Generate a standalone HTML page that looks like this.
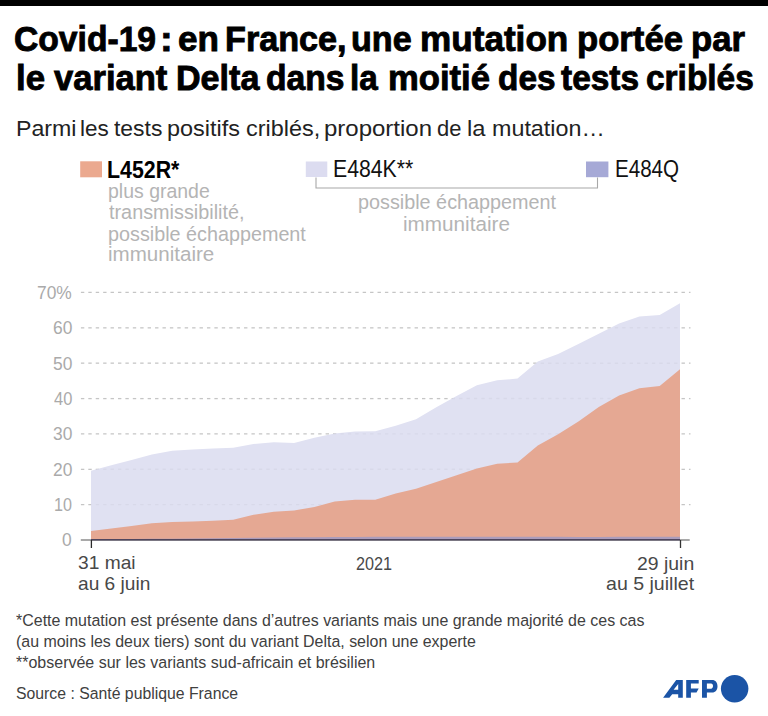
<!DOCTYPE html>
<html><head><meta charset="utf-8"><style>
html,body{margin:0;padding:0;background:#fff;width:768px;height:716px;overflow:hidden;position:relative}
.t{position:absolute;white-space:nowrap;line-height:1;font-family:"Liberation Sans",sans-serif}
#afp{position:absolute;left:662px;top:676px;font-family:"Liberation Sans",sans-serif;font-weight:700;font-style:italic;color:#1b4f9f;font-size:25px;line-height:1}
</style></head><body>
<div style="position:absolute;left:0;top:0;width:768px;height:6px;background:#000"></div>
<svg width="768" height="716" style="position:absolute;left:0;top:0">
<g stroke="#cdcdcd" stroke-width="1.25" stroke-dasharray="3.4 4.015"><line x1="80.9" y1="504.6" x2="690.5" y2="504.6" /><line x1="80.9" y1="469.3" x2="690.5" y2="469.3" /><line x1="80.9" y1="433.9" x2="690.5" y2="433.9" /><line x1="80.9" y1="398.5" x2="690.5" y2="398.5" /><line x1="80.9" y1="363.2" x2="690.5" y2="363.2" /><line x1="80.9" y1="327.8" x2="690.5" y2="327.8" /><line x1="80.9" y1="292.4" x2="690.5" y2="292.4" /></g>
<path d="M91.0,538 L91.0,470.7 L111.3,465.3 L131.6,459.9 L151.9,454.5 L172.2,450.7 L192.6,449.4 L212.9,448.5 L233.2,447.7 L253.5,444.1 L273.8,442.2 L294.1,443.0 L314.4,437.7 L334.7,433.4 L355.0,431.6 L375.3,431.2 L395.7,425.7 L416.0,419.2 L436.3,407.3 L456.6,395.9 L476.9,385.2 L497.2,380.3 L517.5,378.6 L537.8,361.5 L558.1,354.0 L578.4,343.9 L598.8,333.7 L619.1,323.6 L639.4,316.4 L659.7,314.9 L680.0,303.2 L680.0,538 Z" fill="#e0e1f2"/>
<g stroke="#000" stroke-opacity="0.035" stroke-width="1.4" stroke-dasharray="3.4 4.015"><line x1="80.9" y1="504.6" x2="690.5" y2="504.6" /><line x1="80.9" y1="469.3" x2="690.5" y2="469.3" /><line x1="80.9" y1="433.9" x2="690.5" y2="433.9" /><line x1="80.9" y1="398.5" x2="690.5" y2="398.5" /><line x1="80.9" y1="363.2" x2="690.5" y2="363.2" /><line x1="80.9" y1="327.8" x2="690.5" y2="327.8" /><line x1="80.9" y1="292.4" x2="690.5" y2="292.4" /></g>
<path d="M91.0,539.5 L91.0,531.0 L111.3,528.4 L131.6,525.9 L151.9,523.3 L172.2,522.0 L192.6,521.6 L212.9,520.7 L233.2,519.8 L253.5,514.8 L273.8,511.8 L294.1,510.5 L314.4,506.9 L334.7,501.6 L355.0,499.8 L375.3,499.7 L395.7,493.6 L416.0,488.8 L436.3,482.0 L456.6,475.2 L476.9,468.5 L497.2,463.7 L517.5,462.5 L537.8,445.6 L558.1,434.2 L578.4,421.5 L598.8,407.0 L619.1,395.5 L639.4,388.3 L659.7,385.9 L680.0,369.2 L680.0,539.5 Z" fill="#e5a893"/>
<path d="M91,539.5 L91.0,539.30 L111.3,539.13 L131.6,538.97 L151.9,538.80 L172.2,538.64 L192.6,538.47 L212.9,538.23 L233.2,537.98 L253.5,537.74 L273.8,537.49 L294.1,537.28 L314.4,537.15 L334.7,537.03 L355.0,536.91 L375.3,536.79 L395.7,536.70 L416.0,536.70 L436.3,536.70 L456.6,536.70 L476.9,536.70 L497.2,536.71 L517.5,536.76 L537.8,536.80 L558.1,536.84 L578.4,536.88 L598.8,536.88 L619.1,536.84 L639.4,536.79 L659.7,536.75 L680.0,536.70 L680,539.5 Z" fill="#ab9cbb"/>
<line x1="80.8" y1="540" x2="689.7" y2="540" stroke="#8c8c8c" stroke-width="1.5"/>
<line x1="91" y1="539.7" x2="680" y2="539.7" stroke="#4f465e" stroke-width="1.6"/>
<line x1="91.4" y1="540" x2="91.4" y2="548" stroke="#2a2a2a" stroke-width="1.3"/>
<line x1="680.5" y1="540" x2="680.5" y2="548" stroke="#333" stroke-width="1.3"/>
<rect x="80.2" y="161.3" width="21.8" height="16" fill="#eba98f"/>
<rect x="305.8" y="161.5" width="21.5" height="15.5" fill="#dcdcf0"/>
<rect x="586" y="161.5" width="22.4" height="15.7" fill="#a6a9d6"/>
<path d="M316,177.5 V188 H597.5 V177.5" fill="none" stroke="#a8a8a8" stroke-width="1.1"/>
<g fill="#1b54a6">
<path fill-rule="evenodd" d="M663.1,697.7 L676.2,680 L682.8,680 L682.8,697.7 L678.2,697.7 L678.2,694.2 L672.2,694.2 L669.4,697.7 Z M673.6,689.8 L678.2,683.9 L678.2,689.8 Z"/>
<path d="M686.2,680 L698.7,680 L698.7,683.5 L690.9,683.5 L690.9,688.4 L698.7,688.4 L696.5,692.6 L690.9,692.6 L690.9,697.7 L686.2,697.7 Z"/>
<path fill-rule="evenodd" d="M702,680 L712,680 C715.6,680 717.5,682.6 717.5,686.3 C717.5,690 715.6,692.6 712,692.6 L706.9,692.6 L706.9,697.7 L702,697.7 Z M706.9,683.4 L711,683.4 C712.3,683.4 713,684.6 713,686.05 C713,687.5 712.3,688.7 711,688.7 L706.9,688.7 Z"/>
<circle cx="734.65" cy="688.75" r="13.75"/>
</g>
</svg>
<div class="t" id="t1_0" style="left:14.22px;top:21.86px;font-size:35.6px;font-weight:700;color:#000;transform:scaleX(0.9454);transform-origin:left 0;-webkit-text-stroke:0.9px #000;">Covid-19</div>
<div class="t" id="t1_1" style="left:160.33px;top:21.86px;font-size:35.6px;font-weight:700;color:#000;transform:scaleX(1.0708);transform-origin:left 0;-webkit-text-stroke:0.9px #000;">:</div>
<div class="t" id="t1_2" style="left:178.14px;top:21.86px;font-size:35.6px;font-weight:700;color:#000;transform:scaleX(0.9856);transform-origin:left 0;-webkit-text-stroke:0.9px #000;">en</div>
<div class="t" id="t1_3" style="left:224.90px;top:21.86px;font-size:35.6px;font-weight:700;color:#000;transform:scaleX(0.9610);transform-origin:left 0;-webkit-text-stroke:0.9px #000;">France,</div>
<div class="t" id="t1_4" style="left:351.20px;top:21.86px;font-size:35.6px;font-weight:700;color:#000;transform:scaleX(0.9594);transform-origin:left 0;-webkit-text-stroke:0.9px #000;">une</div>
<div class="t" id="t1_5" style="left:420.20px;top:21.86px;font-size:35.6px;font-weight:700;color:#000;transform:scaleX(0.9873);transform-origin:left 0;-webkit-text-stroke:0.9px #000;">mutation</div>
<div class="t" id="t1_6" style="left:577.15px;top:21.86px;font-size:35.6px;font-weight:700;color:#000;transform:scaleX(0.9745);transform-origin:left 0;-webkit-text-stroke:0.9px #000;">portée</div>
<div class="t" id="t1_7" style="left:691.31px;top:21.86px;font-size:35.6px;font-weight:700;color:#000;transform:scaleX(0.9750);transform-origin:left 0;-webkit-text-stroke:0.9px #000;">par</div>
<div class="t" id="t2_0" style="left:15.87px;top:60.86px;font-size:35.6px;font-weight:700;color:#000;transform:scaleX(0.9768);transform-origin:left 0;-webkit-text-stroke:0.9px #000;">le</div>
<div class="t" id="t2_1" style="left:54.02px;top:60.86px;font-size:35.6px;font-weight:700;color:#000;transform:scaleX(0.9713);transform-origin:left 0;-webkit-text-stroke:0.9px #000;">variant</div>
<div class="t" id="t2_2" style="left:176.36px;top:60.86px;font-size:35.6px;font-weight:700;color:#000;transform:scaleX(0.9582);transform-origin:left 0;-webkit-text-stroke:0.9px #000;">Delta</div>
<div class="t" id="t2_3" style="left:266.41px;top:60.86px;font-size:35.6px;font-weight:700;color:#000;transform:scaleX(0.9455);transform-origin:left 0;-webkit-text-stroke:0.9px #000;">dans</div>
<div class="t" id="t2_4" style="left:350.34px;top:60.86px;font-size:35.6px;font-weight:700;color:#000;transform:scaleX(0.9342);transform-origin:left 0;-webkit-text-stroke:0.9px #000;">la</div>
<div class="t" id="t2_5" style="left:387.56px;top:60.86px;font-size:35.6px;font-weight:700;color:#000;transform:scaleX(0.9734);transform-origin:left 0;-webkit-text-stroke:0.9px #000;">moitié</div>
<div class="t" id="t2_6" style="left:497.59px;top:60.86px;font-size:35.6px;font-weight:700;color:#000;transform:scaleX(0.9379);transform-origin:left 0;-webkit-text-stroke:0.9px #000;">des</div>
<div class="t" id="t2_7" style="left:560.62px;top:60.86px;font-size:35.6px;font-weight:700;color:#000;transform:scaleX(0.9397);transform-origin:left 0;-webkit-text-stroke:0.9px #000;">tests</div>
<div class="t" id="t2_8" style="left:646.45px;top:60.86px;font-size:35.6px;font-weight:700;color:#000;transform:scaleX(0.9394);transform-origin:left 0;-webkit-text-stroke:0.9px #000;">criblés</div>
<div class="t" id="sub_0" style="left:15.63px;top:117.95px;font-size:22.5px;font-weight:400;color:#222;transform:scaleX(1.0293);transform-origin:left 0;">Parmi</div>
<div class="t" id="sub_1" style="left:80.22px;top:117.95px;font-size:22.5px;font-weight:400;color:#222;transform:scaleX(0.9985);transform-origin:left 0;">les</div>
<div class="t" id="sub_2" style="left:114.25px;top:117.95px;font-size:22.5px;font-weight:400;color:#222;transform:scaleX(1.0172);transform-origin:left 0;">tests</div>
<div class="t" id="sub_3" style="left:167.45px;top:117.95px;font-size:22.5px;font-weight:400;color:#222;transform:scaleX(1.0408);transform-origin:left 0;">positifs</div>
<div class="t" id="sub_4" style="left:245.51px;top:117.95px;font-size:22.5px;font-weight:400;color:#222;transform:scaleX(1.0412);transform-origin:left 0;">criblés,</div>
<div class="t" id="sub_5" style="left:323.86px;top:117.95px;font-size:22.5px;font-weight:400;color:#222;transform:scaleX(1.0665);transform-origin:left 0;">proportion</div>
<div class="t" id="sub_6" style="left:437.46px;top:117.95px;font-size:22.5px;font-weight:400;color:#222;transform:scaleX(0.9753);transform-origin:left 0;">de</div>
<div class="t" id="sub_7" style="left:466.78px;top:117.95px;font-size:22.5px;font-weight:400;color:#222;transform:scaleX(1.0542);transform-origin:left 0;">la</div>
<div class="t" id="sub_8" style="left:491.63px;top:117.95px;font-size:22.5px;font-weight:400;color:#222;transform:scaleX(1.0360);transform-origin:left 0;">mutation…</div>
<div class="t" id="lg1" style="left:107.16px;top:158.66px;font-size:23.2px;font-weight:700;color:#000;transform:scaleX(0.9211);transform-origin:left 0;">L452R*</div>
<div class="t" id="lg2" style="left:333.19px;top:158.11px;font-size:23.5px;font-weight:400;color:#111;transform:scaleX(0.9035);transform-origin:left 0;">E484K**</div>
<div class="t" id="lg3" style="left:615.25px;top:158.21px;font-size:23.5px;font-weight:400;color:#111;transform:scaleX(0.8757);transform-origin:left 0;">E484Q</div>
<div class="t" id="g1" style="left:108.19px;top:182.46px;font-size:19.3px;font-weight:400;color:#b4b4b4;transform:scaleX(1.0101);transform-origin:left 0;">plus grande</div>
<div class="t" id="g2" style="left:109.20px;top:203.46px;font-size:19.3px;font-weight:400;color:#b4b4b4;transform:scaleX(1.0285);transform-origin:left 0;">transmissibilité,</div>
<div class="t" id="g3" style="left:108.17px;top:224.66px;font-size:19.3px;font-weight:400;color:#b4b4b4;transform:scaleX(1.0255);transform-origin:left 0;">possible échappement</div>
<div class="t" id="g4" style="left:108.13px;top:245.26px;font-size:19.3px;font-weight:400;color:#b4b4b4;transform:scaleX(1.0663);transform-origin:left 0;">immunitaire</div>
<div class="t" id="c1" style="left:357.57px;top:193.26px;font-size:19.3px;font-weight:400;color:#b4b4b4;transform:scaleX(1.0266);transform-origin:left 0;">possible échappement</div>
<div class="t" id="c2" style="left:403.33px;top:214.86px;font-size:19.3px;font-weight:400;color:#b4b4b4;transform:scaleX(1.0735);transform-origin:left 0;">immunitaire</div>
<div class="t" id="x1" style="left:77.81px;top:554.44px;font-size:18.5px;font-weight:400;color:#484848;transform:scaleX(1.0368);transform-origin:left 0;">31 mai</div>
<div class="t" id="x2" style="left:77.82px;top:575.14px;font-size:18.5px;font-weight:400;color:#484848;transform:scaleX(1.0346);transform-origin:left 0;">au 6 juin</div>
<div class="t" id="x3" style="left:356.29px;top:556.05px;font-size:17.9px;font-weight:400;color:#484848;transform:scaleX(0.9053);transform-origin:left 0;">2021</div>
<div class="t" id="x4" style="left:636.75px;top:554.94px;font-size:18.5px;font-weight:400;color:#484848;transform:scaleX(1.0500);transform-origin:left 0;">29 juin</div>
<div class="t" id="x5" style="left:605.74px;top:574.94px;font-size:18.5px;font-weight:400;color:#484848;transform:scaleX(1.0573);transform-origin:left 0;">au 5 juillet</div>
<div class="t" id="f1" style="left:16.32px;top:612.00px;font-size:16.3px;font-weight:400;color:#404040;transform:scaleX(0.9808);transform-origin:left 0;">*Cette mutation est présente dans d’autres variants mais une grande majorité de ces cas</div>
<div class="t" id="f2" style="left:16.32px;top:632.80px;font-size:16.3px;font-weight:400;color:#404040;transform:scaleX(0.9791);transform-origin:left 0;">(au moins les deux tiers) sont du variant Delta, selon une experte</div>
<div class="t" id="f3" style="left:16.32px;top:653.80px;font-size:16.3px;font-weight:400;color:#404040;transform:scaleX(0.9827);transform-origin:left 0;">**observée sur les variants sud-africain et brésilien</div>
<div class="t" id="src" style="left:16.33px;top:685.20px;font-size:16.3px;font-weight:400;color:#404040;transform:scaleX(0.9700);transform-origin:left 0;">Source : Santé publique France</div>
<div class="t" id="y0" style="left:62.02px;top:532.45px;font-size:17.9px;font-weight:400;color:#aaaaaa;transform:scaleX(0.9750);transform-origin:left 0;">0</div>
<div class="t" id="y10" style="left:53.70px;top:497.08px;font-size:17.9px;font-weight:400;color:#aaaaaa;transform:scaleX(0.9000);transform-origin:left 0;">10</div>
<div class="t" id="y20" style="left:52.53px;top:461.71px;font-size:17.9px;font-weight:400;color:#aaaaaa;transform:scaleX(0.9722);transform-origin:left 0;">20</div>
<div class="t" id="y30" style="left:52.53px;top:426.34px;font-size:17.9px;font-weight:400;color:#aaaaaa;transform:scaleX(0.9722);transform-origin:left 0;">30</div>
<div class="t" id="y40" style="left:53.50px;top:390.97px;font-size:17.9px;font-weight:400;color:#aaaaaa;transform:scaleX(0.9211);transform-origin:left 0;">40</div>
<div class="t" id="y50" style="left:52.53px;top:355.60px;font-size:17.9px;font-weight:400;color:#aaaaaa;transform:scaleX(0.9722);transform-origin:left 0;">50</div>
<div class="t" id="y60" style="left:52.53px;top:320.23px;font-size:17.9px;font-weight:400;color:#aaaaaa;transform:scaleX(0.9722);transform-origin:left 0;">60</div>
<div class="t" id="y70" style="left:37.23px;top:284.86px;font-size:17.9px;font-weight:400;color:#aaaaaa;transform:scaleX(0.9721);transform-origin:left 0;">70%</div>
</body></html>
